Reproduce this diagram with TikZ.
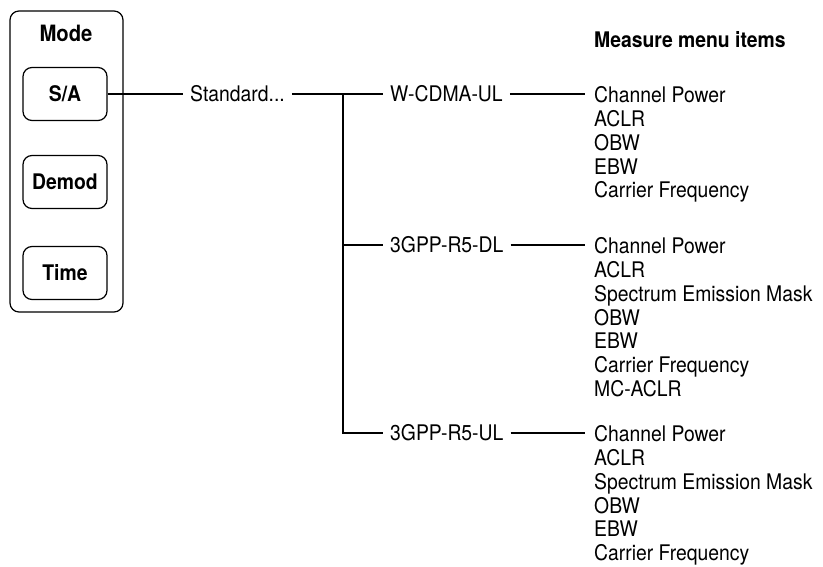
\documentclass[tikz,border=0pt]{standalone}
\usepackage{fontspec}
\setmainfont[FakeStretch=0.9]{TeX Gyre Heros}
\tikzset{
  panel/.style={draw, line width=1.2pt, rounded corners=9pt, minimum width=113pt, minimum height=301pt},
  button/.style={draw, line width=1.2pt, rounded corners=9pt, minimum width=84pt, minimum height=53pt, font=\fontsize{21.5}{26}\selectfont\bfseries},
  lbl/.style={anchor=west, inner xsep=7pt, inner ysep=0pt, text height=15pt, text depth=0pt, font=\fontsize{21.5}{26}\selectfont},
  items/.style={anchor=north west, align=left, inner xsep=9pt, inner ysep=0pt, font=\fontsize{21.5}{23.8}\selectfont},
  wire/.style={line width=1.8pt}
}
\begin{document}
\begin{tikzpicture}[x=1pt, y=-1pt]
\useasboundingbox (0,0) rectangle (823,567);
% mode panel
\node[panel] (mode) at (66.5,161.5) {};
\node[font=\fontsize{22.5}{26}\selectfont\bfseries] (modetitle) at (66,33) {Mode};
\node[button] (sa) at (65,94) {S/A};
\node[button] (demod) at (65,182) {Demod};
\node[button] (time) at (65,273) {Time};
% standards
\node[lbl] (std) at (183,94) {Standard...};
\node[lbl] (wcdma) at (383,94) {W-CDMA-UL};
\node[lbl] (dl) at (383,245) {3GPP-R5-DL};
\node[lbl] (ul) at (383,433) {3GPP-R5-UL};
% measure items
\node[lbl, inner xsep=0pt, font=\fontsize{21.5}{26}\selectfont\bfseries] (head) at (594,40) {Measure menu items};
\node[items] (wcdmaitems) at (585,86.5) {Channel Power\\ACLR\\OBW\\EBW\\Carrier Frequency};
\node[items] (dlitems) at (585,237.5) {Channel Power\\ACLR\\Spectrum Emission Mask\\OBW\\EBW\\Carrier Frequency\\MC-ACLR};
\node[items] (ulitems) at (585,425.5) {Channel Power\\ACLR\\Spectrum Emission Mask\\OBW\\EBW\\Carrier Frequency};
% connectors
\coordinate (jn) at (343,94);
\draw[wire] (sa) -- (std);
\draw[wire] (std) -- (wcdma);
\draw[wire] (jn) |- (ul);
\draw[wire] (jn |- dl.west) -- (dl);
\draw[wire] (wcdma) -- (wcdma -| wcdmaitems.west);
\draw[wire] (dl) -- (dl -| dlitems.west);
\draw[wire] (ul) -- (ul -| ulitems.west);
\end{tikzpicture}
\end{document}
